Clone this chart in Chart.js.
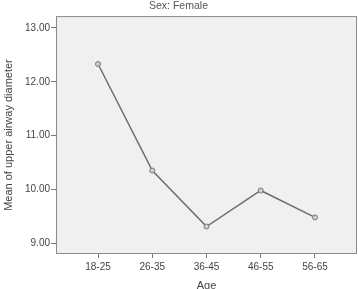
<!DOCTYPE html>
<html>
<head>
<meta charset="utf-8">
<script src="https://cdn.jsdelivr.net/npm/chart.js@4"></script>
<style>
  html, body { margin: 0; padding: 0; background: #fff; }
  #wrap { width: 358px; height: 289px; }
</style>
</head>
<body>
<div id="wrap"><canvas id="chart"></canvas></div>
<script>
// Age groups and mean upper airway diameter (female)
const ageGroups = ['18-25', '26-35', '36-45', '46-55', '56-65'];
const meanDiameter = [12.33, 10.35, 9.31, 9.98, 9.48];
const yTicks = [9, 10, 11, 12, 13];

// grey plot background and frame like the SPSS output
const plotFrame = {
    id: 'plotFrame',
    beforeDraw(chart) {
        const { ctx, chartArea: a } = chart;
        ctx.save();
        ctx.fillStyle = '#f0f0f0';
        ctx.fillRect(a.left, a.top, a.right - a.left, a.bottom - a.top);
        ctx.restore();
    },
    afterDatasetsDraw(chart) {
        const { ctx, chartArea: a } = chart;
        ctx.save();
        ctx.strokeStyle = '#8a8a8a';
        ctx.lineWidth = 1;
        ctx.strokeRect(a.left + 0.5, a.top + 0.5, a.right - a.left - 1, a.bottom - a.top - 1);
        ctx.restore();
    }
};

const ctx = document.getElementById('chart').getContext('2d');
new Chart(ctx, {
    type: 'line',
    data: {
        datasets: [{
            data: meanDiameter.map((v, i) => ({ x: i, y: v })),
            borderColor: '#6e6e6e',
            borderWidth: 1.5,
            pointRadius: 2.5,
            pointBackgroundColor: '#cfcfcf',
            pointBorderColor: '#777',
            pointBorderWidth: 1,
            tension: 0,
            clip: false,
        }],
    },
    options: {
        responsive: true,
        maintainAspectRatio: false,
        animation: false,
        layout: { autoPadding: false, padding: { right: 1, left: 0, top: 0, bottom: 0 } },
        plugins: {
            legend: { display: false },
            tooltip: { enabled: false },
            title: {
                display: true,
                text: 'Sex: Female',
                color: '#555',
                font: { family: 'Liberation Sans', size: 10.5, weight: 'normal' },
                padding: { top: 0, bottom: 3.5 },
            },
        },
        scales: {
            x: {
                type: 'linear',
                min: -0.775,
                max: 4.775,
                afterBuildTicks: (scale) => {
                    scale.ticks = ageGroups.map((_, i) => ({ value: i }));
                },
                afterFit: (scale) => { scale.height = 35; },
                ticks: {
                    callback: (v) => ageGroups[v],
                    color: '#444',
                    padding: 3,
                    maxRotation: 0,
                    font: { family: 'Liberation Sans', size: 10 },
                },
                grid: { drawOnChartArea: false, drawTicks: true, tickLength: 4, color: '#777' },
                border: { display: false },
                title: {
                    display: true,
                    text: 'Age',
                    color: '#444',
                    font: { family: 'Liberation Sans', size: 11 },
                    padding: { top: 0, bottom: -4 },
                },
            },
            y: {
                min: 8.8,
                max: 13.22,
                afterBuildTicks: (scale) => {
                    scale.ticks = yTicks.map(v => ({ value: v }));
                },
                afterFit: (scale) => { scale.width = 56; },
                ticks: {
                    callback: (v) => v.toFixed(2),
                    color: '#444',
                    padding: 1,
                    font: { family: 'Liberation Sans', size: 10 },
                },
                grid: { drawOnChartArea: false, drawTicks: true, tickLength: 5, color: '#777' },
                border: { display: false },
                title: {
                    display: true,
                    text: 'Mean of upper airway diameter',
                    color: '#444',
                    font: { family: 'Liberation Sans', size: 11 },
                    padding: { top: 2, bottom: 0 },
                },
            },
        },
    },
    plugins: [plotFrame],
});
</script>
</body>
</html>
